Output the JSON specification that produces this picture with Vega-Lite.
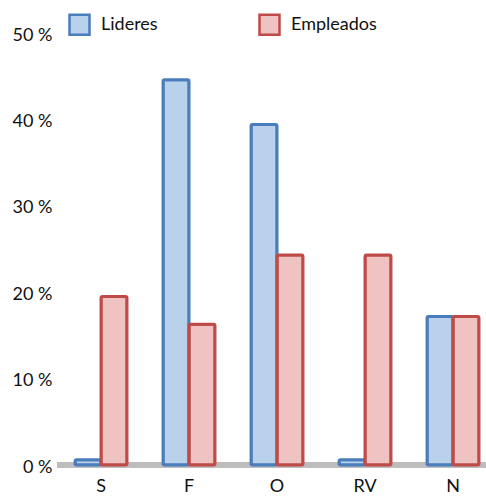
{
  "$schema": "https://vega.github.io/schema/vega-lite/v6.json",
  "width": 429,
  "height": 432,
  "autosize": "none",
  "padding": {"left": 57, "top": 33, "right": 0, "bottom": 35},
  "background": "white",
  "config": {"view": {"stroke": null}, "font": "Lato"},
  "data": {
    "values": [
      {"cat": "S", "serie": "Lideres", "valor": 0.6},
      {"cat": "S", "serie": "Empleados", "valor": 19.5},
      {"cat": "F", "serie": "Lideres", "valor": 44.6},
      {"cat": "F", "serie": "Empleados", "valor": 16.3},
      {"cat": "O", "serie": "Lideres", "valor": 39.4},
      {"cat": "O", "serie": "Empleados", "valor": 24.3},
      {"cat": "RV", "serie": "Lideres", "valor": 0.6},
      {"cat": "RV", "serie": "Empleados", "valor": 24.3},
      {"cat": "N", "serie": "Lideres", "valor": 17.2},
      {"cat": "N", "serie": "Empleados", "valor": 17.2}
    ]
  },
  "layer": [
    {
      "mark": {"type": "rule", "color": "#bdbdbd", "strokeWidth": 5},
      "encoding": {"y": {"datum": 0, "type": "quantitative", "scale": {"domain": [0, 50], "nice": false}}}
    },
    {
      "mark": {"type": "bar", "strokeWidth": 3, "strokeJoin": "round", "cornerRadius": 1.5},
      "encoding": {
        "x": {
          "field": "cat", "type": "nominal", "sort": ["S", "F", "O", "RV", "N"],
          "scale": {"paddingInner": 0.41, "paddingOuter": 0.1425, "align": 0.72},
          "axis": {"title": null, "labelAngle": 0, "domain": false, "ticks": false, "labelFontSize": 18, "labelPadding": 12, "labelColor": "#111"}
        },
        "xOffset": {"field": "serie", "sort": ["Lideres", "Empleados"], "scale": {"paddingInner": 0, "paddingOuter": 0}},
        "y": {
          "field": "valor", "type": "quantitative",
          "scale": {"domain": [0, 50], "nice": false},
          "axis": {"title": null, "values": [0, 10, 20, 30, 40, 50], "labelExpr": "datum.value + '  %'", "domain": false, "ticks": false, "grid": false, "labelFontSize": 18, "labelPadding": 5, "labelOffset": 2, "labelColor": "#111"}
        },
        "fill": {
          "field": "serie", "type": "nominal",
          "scale": {"domain": ["Lideres", "Empleados"], "range": ["#b9d1ea", "#f0c3c3"]},
          "legend": {"orient": "none", "legendX": 11, "legendY": -20, "direction": "horizontal", "title": null, "symbolType": "square", "symbolSize": 400, "symbolStrokeWidth": 2.5, "labelFontSize": 18, "labelOffset": 10, "columnPadding": 96, "labelColor": "#111"}
        },
        "stroke": {
          "field": "serie", "type": "nominal",
          "scale": {"domain": ["Lideres", "Empleados"], "range": ["#4a7ebb", "#be4b48"]},
          "legend": {"orient": "none", "legendX": 11, "legendY": -20, "direction": "horizontal", "title": null, "symbolType": "square", "symbolSize": 400, "symbolStrokeWidth": 2.5, "labelFontSize": 18, "labelOffset": 10, "columnPadding": 96, "labelColor": "#111"}
        }
      }
    }
  ]
}
